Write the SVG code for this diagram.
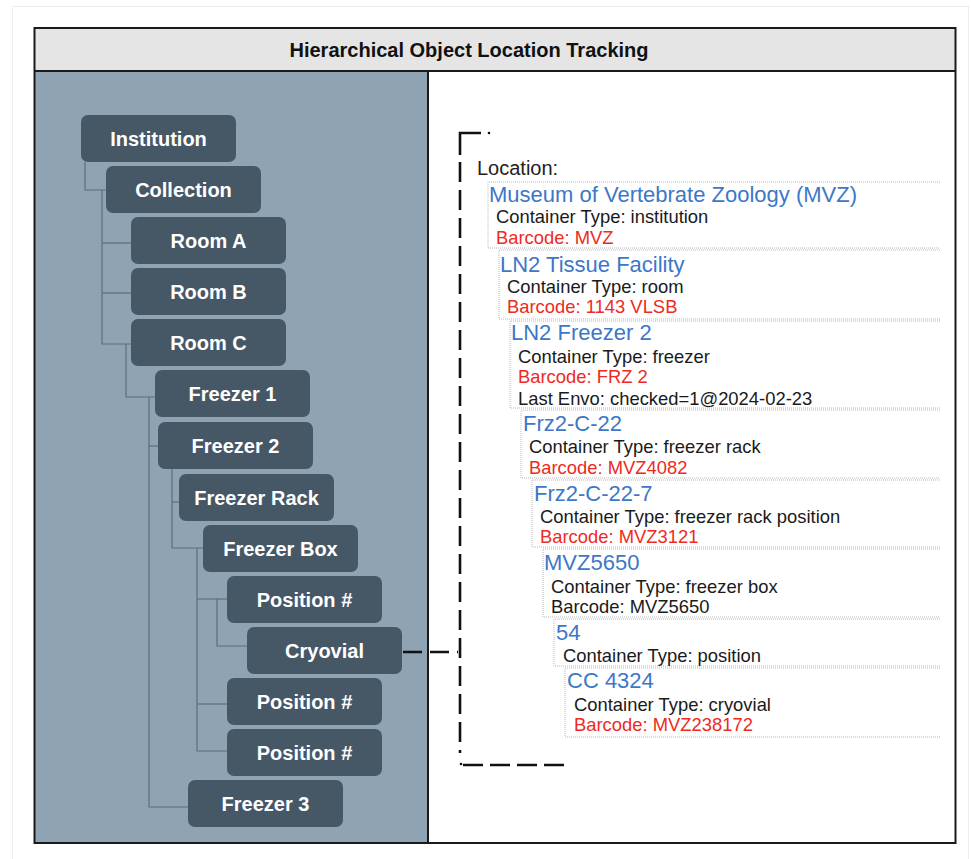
<svg xmlns="http://www.w3.org/2000/svg" width="971" height="859" viewBox="0 0 971 859">
<style>
.node rect{fill:#465766;}
.node text{fill:#ffffff;font-family:"Liberation Sans",Arial,sans-serif;font-weight:bold;font-size:20px;text-anchor:middle;}
.conn path{fill:none;stroke:#5b6f80;stroke-width:1.2;}
.dot{fill:none;stroke:#b8b8b8;stroke-width:1;stroke-dasharray:1 1;}
.t{font-family:"Liberation Sans",Arial,sans-serif;}
.h{font-size:22px;fill:#3d77c8;}
.d{font-size:18.4px;fill:#1a1a1a;}
.r{font-size:18.4px;fill:#ee2a22;}
.br{fill:none;stroke:#111;stroke-width:2.6;}
</style>
<rect x="12.5" y="6.5" width="956" height="860" fill="#ffffff" stroke="#eeeeee" stroke-width="1"/>
<rect x="34.5" y="28" width="921" height="43" fill="#e5e5e5"/>
<rect x="34.5" y="71" width="393.5" height="772" fill="#8fa3b2"/>
<rect x="428" y="71" width="527.5" height="772" fill="#ffffff"/>
<rect x="34.5" y="28" width="921" height="815" fill="none" stroke="#1a1a1a" stroke-width="2"/>
<line x1="34.5" y1="71" x2="955.5" y2="71" stroke="#1a1a1a" stroke-width="2"/>
<line x1="428" y1="71" x2="428" y2="843" stroke="#1a1a1a" stroke-width="2"/>
<text x="469" y="57" class="t" font-size="20" font-weight="bold" text-anchor="middle" fill="#111">Hierarchical Object Location Tracking</text>

<g id="connectors" class="conn">
<path d="M85 162 V190 H106"/>
<path d="M102 190 V344 H131"/>
<path d="M102 243 H131"/>
<path d="M102 293 H131"/>
<path d="M126 344 V397 H155"/>
<path d="M149 397 V807 H188"/>
<path d="M149 446 H158"/>
<path d="M172 469 V548 H203"/>
<path d="M172 502 H179"/>
<path d="M197 548 V751 H227"/>
<path d="M197 599 H227"/>
<path d="M197 704 H227"/>
<path d="M217 599 V646 H247"/>
<path d="M403 652 H458" class="br" style="stroke-dasharray:19 8;stroke:#111;stroke-width:2.6"/>
</g>

<g id="n-institution" class="node"><rect x="81" y="115" width="155" height="47" rx="7"/><text x="158.5" y="146">Institution</text></g>
<g id="n-collection" class="node"><rect x="106" y="166" width="155" height="47" rx="7"/><text x="183.5" y="197">Collection</text></g>
<g id="n-roomA" class="node"><rect x="131" y="217" width="155" height="47" rx="7"/><text x="208.5" y="248">Room A</text></g>
<g id="n-roomB" class="node"><rect x="131" y="268" width="155" height="47" rx="7"/><text x="208.5" y="299">Room B</text></g>
<g id="n-roomC" class="node"><rect x="131" y="319" width="155" height="47" rx="7"/><text x="208.5" y="350">Room C</text></g>
<g id="n-freezer1" class="node"><rect x="155" y="370" width="155" height="47" rx="7"/><text x="232.5" y="401">Freezer 1</text></g>
<g id="n-freezer2" class="node"><rect x="158" y="422" width="155" height="47" rx="7"/><text x="235.5" y="453">Freezer 2</text></g>
<g id="n-rack" class="node"><rect x="179" y="474" width="155" height="47" rx="7"/><text x="256.5" y="505">Freezer Rack</text></g>
<g id="n-box" class="node"><rect x="203" y="525" width="155" height="47" rx="7"/><text x="280.5" y="556">Freezer Box</text></g>
<g id="n-pos1" class="node"><rect x="227" y="576" width="155" height="47" rx="7"/><text x="304.5" y="607">Position #</text></g>
<g id="n-cryovial" class="node"><rect x="247" y="627" width="155" height="47" rx="7"/><text x="324.5" y="658">Cryovial</text></g>
<g id="n-pos2" class="node"><rect x="227" y="678" width="155" height="47" rx="7"/><text x="304.5" y="709">Position #</text></g>
<g id="n-pos3" class="node"><rect x="227" y="729" width="155" height="47" rx="7"/><text x="304.5" y="760">Position #</text></g>
<g id="n-freezer3" class="node"><rect x="188" y="780" width="155" height="47" rx="7"/><text x="265.5" y="811">Freezer 3</text></g>

<g id="bracket">
<path class="br" d="M481 133 H460 V155"/>
<circle cx="489" cy="133" r="1.3" fill="#111"/>
<path class="br" d="M460 162 V753" style="stroke-dasharray:20 8"/>
<circle cx="461" cy="764" r="1.3" fill="#111"/>
<path class="br" d="M463 765 H565" style="stroke-dasharray:20 7"/>
</g>

<g id="location-panel">
<text x="477" y="175" class="t" font-size="20" fill="#222">Location:</text>
<path class="dot" d="M940 182 H488 V248 H940"/>
<text x="489" y="202" class="t h">Museum of Vertebrate Zoology (MVZ)</text>
<text x="496" y="223" class="t d">Container Type: institution</text>
<text x="496" y="244" class="t r">Barcode: MVZ</text>
<path class="dot" d="M940 250 H499 V319 H940"/>
<text x="500" y="272" class="t h">LN2 Tissue Facility</text>
<text x="507" y="293" class="t d">Container Type: room</text>
<text x="507" y="313" class="t r">Barcode: 1143 VLSB</text>
<path class="dot" d="M940 321 H510 V408 H940"/>
<text x="511" y="340" class="t h">LN2 Freezer 2</text>
<text x="518" y="363" class="t d">Container Type: freezer</text>
<text x="518" y="383" class="t r">Barcode: FRZ 2</text>
<text x="518" y="405" class="t d">Last Envo: checked=1@2024-02-23</text>
<path class="dot" d="M940 410 H521 V478 H940"/>
<text x="523" y="431" class="t h">Frz2-C-22</text>
<text x="529" y="453" class="t d">Container Type: freezer rack</text>
<text x="529" y="474" class="t r">Barcode: MVZ4082</text>
<path class="dot" d="M940 480 H532 V547 H940"/>
<text x="534" y="501" class="t h">Frz2-C-22-7</text>
<text x="540" y="523" class="t d">Container Type: freezer rack position</text>
<text x="540" y="543" class="t r">Barcode: MVZ3121</text>
<path class="dot" d="M940 549 H543 V617 H940"/>
<text x="544" y="570" class="t h">MVZ5650</text>
<text x="551" y="593" class="t d">Container Type: freezer box</text>
<text x="551" y="613" class="t d">Barcode: MVZ5650</text>
<path class="dot" d="M940 619 H554 V666 H940"/>
<text x="556" y="640" class="t h">54</text>
<text x="563" y="662" class="t d">Container Type: position</text>
<path class="dot" d="M940 668 H565 V737 H940"/>
<text x="567" y="688" class="t h">CC 4324</text>
<text x="574" y="711" class="t d">Container Type: cryovial</text>
<text x="574" y="731" class="t r">Barcode: MVZ238172</text>
</g>
</svg>
